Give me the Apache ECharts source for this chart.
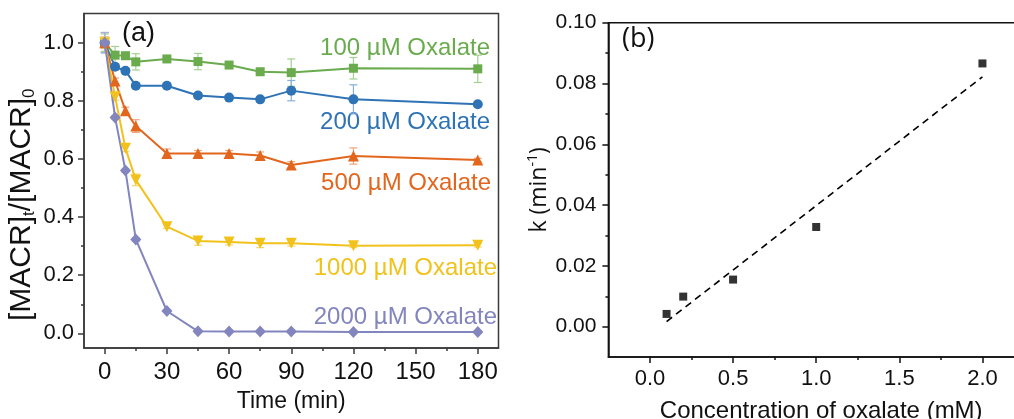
<!DOCTYPE html>
<html><head><meta charset="utf-8">
<script src="https://cdn.jsdelivr.net/npm/echarts@6/dist/echarts.min.js"></script>
<style>html,body{margin:0;padding:0;background:#fff}#c{width:1014px;height:419px}</style>
</head><body><div id="c"></div>
<script>
// ---- Panel (a) data ----
const times = [0, 5, 10, 15, 30, 45, 60, 75, 90, 120, 180];
const ox100 = [1.0, 0.957, 0.955, 0.934, 0.944, 0.935, 0.923, 0.900, 0.897, 0.912, 0.910];
const ox200 = [1.0, 0.917, 0.903, 0.852, 0.852, 0.818, 0.811, 0.805, 0.835, 0.805, 0.788];
const ox500 = [1.0, 0.868, 0.766, 0.713, 0.619, 0.619, 0.619, 0.612, 0.579, 0.610, 0.596];
const ox1000 = [1.0, 0.814, 0.637, 0.528, 0.367, 0.318, 0.314, 0.310, 0.310, 0.301, 0.303];
const ox2000 = [1.0, 0.743, 0.560, 0.323, 0.077, 0.007, 0.006, 0.006, 0.006, 0.005, 0.005];
const err100 = [0.03, 0.03, 0.012, 0.028, 0.008, 0.028, 0.01, 0.01, 0.047, 0.037, 0.047];
const err200 = [0.035, 0.01, 0.008, 0.008, 0.008, 0.01, 0.008, 0.008, 0.035, 0.05, 0.006];
const err500 = [0.02, 0.01, 0.012, 0.022, 0.015, 0.01, 0.01, 0.012, 0.012, 0.028, 0.006];
const err1000 = [0.02, 0.012, 0.012, 0.02, 0.006, 0.015, 0.01, 0.015, 0.01, 0.006, 0.006];
const err2000 = [0.035, 0.005, 0.005, 0.005, 0.005, 0.005, 0.005, 0.005, 0.005, 0.005, 0.005];
const seriesNames = ['100 µM Oxalate', '200 µM Oxalate', '500 µM Oxalate', '1000 µM Oxalate', '2000 µM Oxalate'];
const timeTicks = [0, 30, 60, 90, 120, 150, 180];
const timeMinor = [15, 45, 75, 105, 135, 165];
const ratioTicks = [0.0, 0.2, 0.4, 0.6, 0.8, 1.0];
const ratioMinor = [0.1, 0.3, 0.5, 0.7, 0.9];

// ---- Panel (b) data ----
const concX = [0.1, 0.2, 0.5, 1.0, 2.0];
const kVals = [0.0042, 0.0099, 0.0155, 0.0328, 0.0866];
const fitX = [0.1, 2.0];
const fitY = [0.0017, 0.0822];
const concTicks = [0.0, 0.5, 1.0, 1.5, 2.0];
const concMinor = [0.25, 0.75, 1.25, 1.75];
const kTicks = [0.00, 0.02, 0.04, 0.06, 0.08, 0.10];
const kMinor = [0.01, 0.03, 0.05, 0.07, 0.09];

const colors = ['#6aab4e', '#2e73b5', '#e2661e', '#f1c21b', '#8285be'];
const errColors = ['#a3cf92', '#86afd8', '#efa57d', '#f5d56e', '#aeb0d8'];
const symbols = ['rect', 'circle', 'triangle', 'triangle', 'diamond'];
const symSizes = [[9, 9], 10, 11, 11, [11, 12]];
const symRot = [0, 0, 0, 180, 0];
const allVals = [ox100, ox200, ox500, ox1000, ox2000];
const allErr = [err100, err200, err500, err1000, err2000];

const F = 'Liberation Sans, Arial, sans-serif';
const axC = '#3a3a3a';

function pairs(xs, ys) { return xs.map((x, i) => [x, ys[i]]); }

const series = [];
allVals.forEach((vals, s) => {
  series.push({
    type: 'custom', xAxisIndex: 0, yAxisIndex: 0, z: 1, silent: true,
    data: times.map((t, i) => [t, vals[i], allErr[s][i]]),
    renderItem: function (params, api) {
      const x = api.value(0), y = api.value(1), e = api.value(2);
      const hi = api.coord([x, y + e]), lo = api.coord([x, y - e]);
      const w = 4;
      const st = { stroke: errColors[s], lineWidth: 1.2 };
      return { type: 'group', children: [
        { type: 'line', shape: { x1: hi[0], y1: hi[1], x2: lo[0], y2: lo[1] }, style: st },
        { type: 'line', shape: { x1: hi[0] - w, y1: hi[1], x2: hi[0] + w, y2: hi[1] }, style: st },
        { type: 'line', shape: { x1: lo[0] - w, y1: lo[1], x2: lo[0] + w, y2: lo[1] }, style: st }
      ]};
    }
  });
  series.push({
    type: 'line', name: seriesNames[s], xAxisIndex: 0, yAxisIndex: 0, z: 3,
    data: pairs(times, vals),
    symbol: symbols[s], symbolSize: symSizes[s], symbolRotate: symRot[s],
    showAllSymbol: true,
    lineStyle: { color: colors[s], width: 2 },
    itemStyle: { color: colors[s] }
  });
});

series.push({
  type: 'line', xAxisIndex: 2, yAxisIndex: 2, data: pairs(fitX, fitY),
  symbol: 'none', lineStyle: { color: '#000', width: 1.6, type: [7, 5] }
});
series.push({
  type: 'scatter', xAxisIndex: 2, yAxisIndex: 2, data: pairs(concX, kVals),
  symbol: 'rect', symbolSize: 8, itemStyle: { color: '#000' }
});

function majorAxis(o) {
  return Object.assign({
    type: 'value',
    axisLine: { show: true, onZero: false, lineStyle: { color: axC, width: 1.5 } },
    axisTick: { show: true, inside: false, length: 6, lineStyle: { color: axC, width: 1.5 } },
    splitLine: { show: false }
  }, o);
}
function minorAxis(o) {
  return Object.assign({
    type: 'value',
    axisLine: { show: false, onZero: false },
    axisLabel: { show: false },
    splitLine: { show: false }
  }, o);
}

const option = {
  animation: false,
  backgroundColor: '#fff',
  grid: [
    { left: 84, top: 13.6, width: 414.5, height: 334.3, show: true, borderColor: axC, borderWidth: 1.5,
      containLabel: false, outerBoundsMode: 'none' },
    { left: 608.4, top: 22.7, width: 415.6, height: 334.4, show: true, borderColor: '#111', borderWidth: 1.5,
      containLabel: false, outerBoundsMode: 'none' }
  ],
  xAxis: [
    majorAxis({ gridIndex: 0, min: -10, max: 190,
      axisTick: { show: true, length: 6, customValues: timeTicks, lineStyle: { color: axC, width: 1.5 } },
      axisLabel: { customValues: timeTicks, fontFamily: F, fontSize: 24, color: '#111', margin: 12 },
      name: 'Time (min)', nameLocation: 'middle', nameGap: 42,
      nameTextStyle: { fontFamily: F, fontSize: 23, color: '#111' } }),
    minorAxis({ gridIndex: 0, min: -10, max: 190, position: 'bottom',
      axisTick: { show: true, length: 3, customValues: timeMinor, lineStyle: { color: axC, width: 1.5 } } }),
    majorAxis({ gridIndex: 1, min: -0.25, max: 2.25,
      axisLine: { show: true, onZero: false, lineStyle: { color: '#111', width: 1.5 } },
      axisTick: { show: true, length: 6, customValues: concTicks, lineStyle: { color: '#111', width: 1.5 } },
      axisLabel: { customValues: concTicks, fontFamily: F, fontSize: 22, color: '#111', margin: 11,
        formatter: v => v.toFixed(1) },
      name: 'Concentration of oxalate (mM)', nameLocation: 'middle', nameGap: 42,
      nameTextStyle: { fontFamily: F, fontSize: 24, color: '#111', padding: [0, 0, 0, 10] } }),
    minorAxis({ gridIndex: 1, min: -0.25, max: 2.25, position: 'bottom',
      axisTick: { show: true, length: 3, customValues: concMinor, lineStyle: { color: '#111', width: 1.5 } } })
  ],
  yAxis: [
    majorAxis({ gridIndex: 0, min: -0.05, max: 1.1,
      axisTick: { show: true, length: 6, customValues: ratioTicks, lineStyle: { color: axC, width: 1.5 } },
      axisLabel: { customValues: ratioTicks, fontFamily: F, fontSize: 22, color: '#111', margin: 10,
        formatter: v => v.toFixed(1) },
      name: '{n|[MACR]}{s|t}{n|/[MACR]}{s|0}', nameLocation: 'middle', nameGap: 46,
      nameTextStyle: { fontFamily: F, fontSize: 24, color: '#111', padding: [0, 48, 0, 0],
        rich: { n: { fontFamily: F, fontSize: 30, color: '#111' },
                s: { fontFamily: F, fontSize: 17, color: '#111', verticalAlign: 'bottom', padding: [16, 0, 0, 0] } } } }),
    minorAxis({ gridIndex: 0, min: -0.05, max: 1.1, position: 'left',
      axisTick: { show: true, length: 3, customValues: ratioMinor, lineStyle: { color: axC, width: 1.5 } } }),
    majorAxis({ gridIndex: 1, min: -0.01, max: 0.10,
      axisLine: { show: true, onZero: false, lineStyle: { color: '#111', width: 1.5 } },
      axisTick: { show: true, length: 6, customValues: kTicks, lineStyle: { color: '#111', width: 1.5 } },
      axisLabel: { customValues: kTicks, fontFamily: F, fontSize: 21, color: '#111', margin: 12,
        formatter: v => v.toFixed(2) },
      name: '{n|k (min}{s|-1}{n|)}', nameLocation: 'middle', nameGap: 56,
      nameTextStyle: { fontFamily: 'Open Sans', fontSize: 23, color: '#111',
        rich: { n: { fontFamily: 'Open Sans', fontSize: 23, color: '#111' },
                s: { fontFamily: 'Open Sans', fontSize: 14, color: '#111', verticalAlign: 'top', padding: [0, 0, 12, 0] } } } }),
    minorAxis({ gridIndex: 1, min: -0.01, max: 0.10, position: 'left',
      axisTick: { show: true, length: 3, customValues: kMinor, lineStyle: { color: '#111', width: 1.5 } } })
  ],
  graphic: [
    { type: 'text', left: 122, top: 20, style: { text: '(a)', font: '27px ' + F, fill: '#111' } },
    { type: 'text', left: 622, top: 26, style: { text: '(b)', font: '27px Open Sans', fill: '#111' } },
    { type: 'text', x: 490, y: 48, style: { text: seriesNames[0], font: '24px ' + F, fill: colors[0], align: 'right', verticalAlign: 'middle' } },
    { type: 'text', x: 490, y: 122, style: { text: seriesNames[1], font: '24px ' + F, fill: colors[1], align: 'right', verticalAlign: 'middle' } },
    { type: 'text', x: 491, y: 183, style: { text: seriesNames[2], font: '24px ' + F, fill: colors[2], align: 'right', verticalAlign: 'middle' } },
    { type: 'text', x: 497, y: 268, style: { text: seriesNames[3], font: '24px ' + F, fill: colors[3], align: 'right', verticalAlign: 'middle' } },
    { type: 'text', x: 497, y: 317, style: { text: seriesNames[4], font: '24px ' + F, fill: colors[4], align: 'right', verticalAlign: 'middle' } }
  ],
  series: series
};

const chart = echarts.init(document.getElementById('c'), null, { renderer: 'canvas' });
chart.setOption(option);
</script>
</body></html>
